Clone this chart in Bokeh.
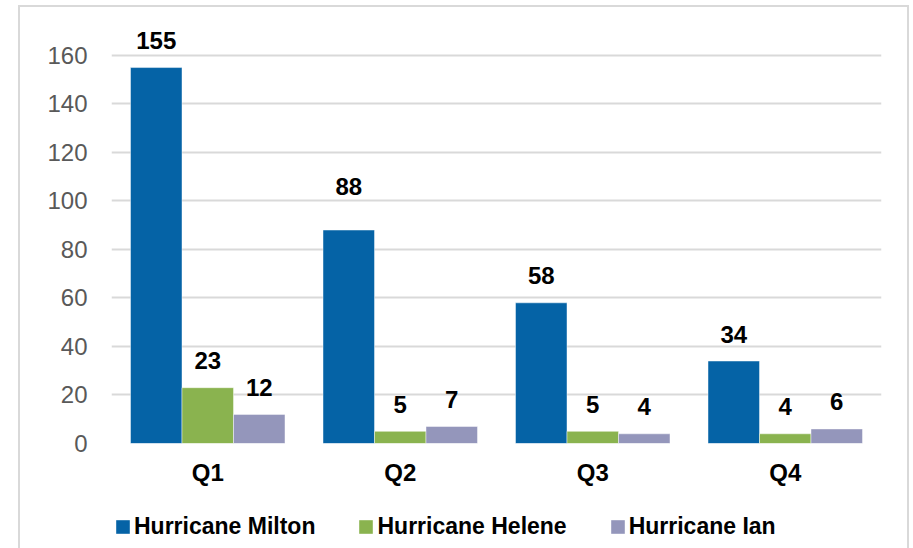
from bokeh.plotting import figure
from bokeh.layouts import column
from bokeh.models import (ColumnDataSource, FactorRange, Range1d, FixedTicker,
                          Legend, LegendItem)
from bokeh.transform import dodge
from bokeh.core.properties import value
from bokeh.embed import file_html
from bokeh.resources import INLINE

# Data
quarters = ["Q1", "Q2", "Q3", "Q4"]
series_names = ["Hurricane Milton", "Hurricane Helene", "Hurricane Ian"]
milton = [155, 88, 58, 34]
helene = [23, 5, 5, 4]
ian = [12, 7, 4, 6]
y_ticks = [0, 20, 40, 60, 80, 100, 120, 140, 160]

series_values = [milton, helene, ian]
colors = ["#0563A6", "#8AB34F", "#9496BB"]

FONT = "Liberation Sans"
BAR_W = 0.2675
offsets = [-BAR_W, 0.0, BAR_W]
# extra lift (px) for a label that sits higher than the rest
label_lift = {("Q2", 0): 17}

p = figure(width=913, height=490,
           x_range=FactorRange(*quarters, range_padding=0),
           y_range=Range1d(0, 174.4),
           output_backend="svg", toolbar_location=None,
           min_border_left=111, min_border_right=32,
           min_border_top=20, min_border_bottom=47)
p.outline_line_color = None
p.background_fill_color = "white"
p.border_fill_color = None

# axes
p.yaxis.ticker = FixedTicker(ticks=y_ticks)
p.yaxis.axis_line_color = None
p.yaxis.major_tick_line_color = None
p.yaxis.minor_tick_line_color = None
p.yaxis.major_label_text_font = FONT
p.yaxis.major_label_text_font_size = "24px"
p.yaxis.major_label_text_color = "#595959"
p.yaxis.major_label_standoff = 18

p.xaxis.axis_line_color = None
p.xaxis.major_tick_line_color = None
p.xaxis.minor_tick_line_color = None
p.xaxis.major_label_text_font = FONT
p.xaxis.major_label_text_font_size = "24px"
p.xaxis.major_label_text_font_style = "bold"
p.xaxis.major_label_text_color = "black"
p.xaxis.major_label_standoff = 9

p.xgrid.grid_line_color = None
p.ygrid.ticker = FixedTicker(ticks=y_ticks)
p.ygrid.grid_line_color = "#D9D9D9"
p.ygrid.grid_line_width = 2

for i, (name, vals, col) in enumerate(zip(series_names, series_values, colors)):
    src = ColumnDataSource(dict(
        quarter=quarters,
        value=vals,
        label=[str(v) for v in vals],
        yoff=[-27 - label_lift.get((q, i), 0) for q in quarters],
    ))
    p.vbar(x=dodge("quarter", offsets[i], range=p.x_range), top="value",
           width=BAR_W, bottom=0, source=src, fill_color=col,
           line_color="white", line_width=0.75, line_alpha=0.6)
    p.text(x=dodge("quarter", offsets[i], range=p.x_range), y="value",
           text="label", y_offset="yoff", source=src,
           text_align="center", text_baseline="alphabetic",
           text_font=value(FONT), text_font_size="24px",
           text_font_style="bold", text_color="black")

# legend strip underneath the chart
lg = figure(width=913, height=58, x_range=Range1d(0, 913), y_range=Range1d(0, 58),
            output_backend="svg", toolbar_location=None,
            min_border=0, min_border_left=0, min_border_right=0,
            min_border_top=0, min_border_bottom=0)
lg.axis.visible = False
lg.grid.visible = False
lg.outline_line_color = None
lg.background_fill_color = None
lg.border_fill_color = None

legend_items = []
for name, col in zip(series_names, colors):
    # zero-size proxy bar: only its swatch in the legend is seen
    r = lg.vbar(x=[0], top=[0], bottom=0, width=0, fill_color=col, line_color=None)
    legend_items.append(LegendItem(label=name, renderers=[r]))

legend = Legend(items=legend_items, orientation="horizontal",
                location=(3, 8), padding=0, spacing=42,
                glyph_width=17, glyph_height=17, label_standoff=3,
                label_text_font=FONT, label_text_font_size="23px",
                label_text_font_style="bold", label_text_color="black",
                border_line_color=None, background_fill_alpha=0)
lg.add_layout(legend, "center")

# thin grey frame around the whole chart, painted behind the canvases
line = "linear-gradient(#D9D9D9, #D9D9D9)"
layout = column(p, lg, spacing=0, styles={
    "background-color": "white",
    "background-image": ", ".join([line, line, line]),
    "background-size": "891px 2px, 2px 600px, 2px 600px",
    "background-position": "18px 5px, 18px 5px, 907px 5px",
    "background-repeat": "no-repeat",
})

open("out.html", "w").write(file_html(layout, INLINE))
